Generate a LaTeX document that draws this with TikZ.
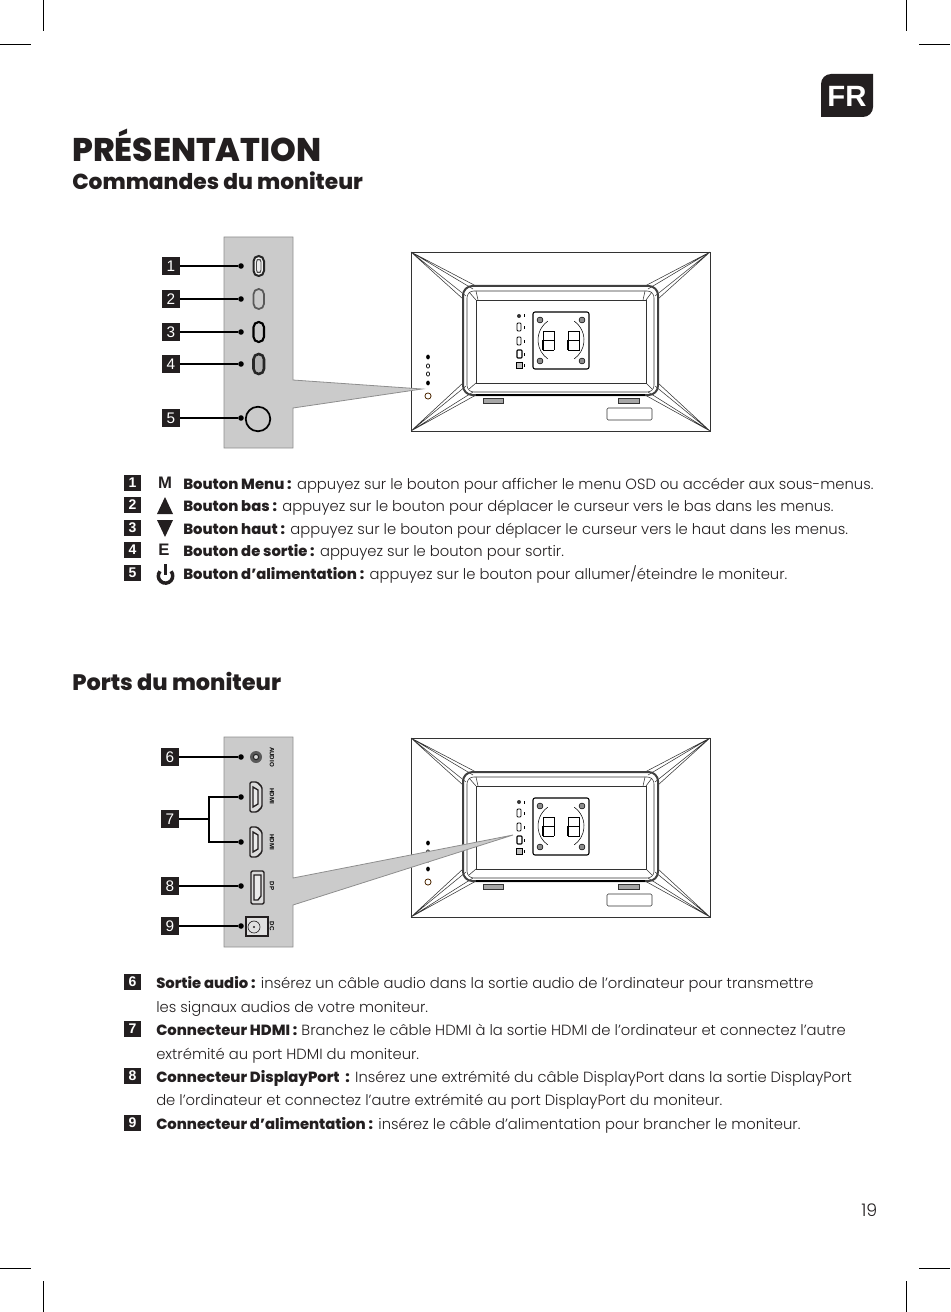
\documentclass[tikz,border=0pt]{standalone}
\usepackage{fontspec}
\setmainfont{Poppins Light}[BoldFont={Poppins ExtraBold}]
\newfontfamily\labelfont{Liberation Sans}
\usetikzlibrary{arrows.meta, positioning}
\definecolor{inkdark}{HTML}{231F20}
\definecolor{panelgray}{HTML}{CBCBCB}
\definecolor{panelline}{HTML}{8E8E8E}

\tikzset{
  panel/.style={fill=panelgray, draw=panelline, line width=0.6pt},
  numbox/.style={draw=none, fill=inkdark, text=white, minimum size=13.5pt, inner sep=0pt, font=\labelfont\fontsize{11.5}{12}\selectfont},
  listbox/.style={draw=none, fill=inkdark, text=white, minimum size=12.6pt, inner sep=0pt, font=\labelfont\bfseries\fontsize{10.5}{12}\selectfont},
  pindot/.style={circle, fill=black, inner sep=0pt, minimum size=4.2pt},
  pinline/.style={line width=0.8pt, black},
  bodytext/.style={anchor=base west, inner sep=0pt, text=inkdark, font=\fontsize{11.07}{14}\selectfont},
  headtext/.style={anchor=base west, inner sep=0pt, text=inkdark, font=\bfseries\fontsize{16.5}{18}\selectfont},
  portname/.style={rotate=-90, inner sep=0pt, font=\labelfont\bfseries\fontsize{4.6}{5}\selectfont},
  crop/.style={line width=0.4pt, black},
  pics/hdmiport/.style={code={
    \draw[line width=1.1pt, inkdark, rounded corners=1pt, fill=panelgray!70!white]
      (-6,-15) -- (1,-15) -- (6,-10) -- (6,10) -- (1,15) -- (-6,15) -- cycle;
    \draw[line width=1pt, inkdark, fill=panelgray!40!white]
      (-3,-10) -- (2,-7) -- (2,7) -- (-3,10) -- cycle;
  }},
  pics/monitorback/.style={code={
    % outer shell and corner creases
    \draw[line width=0.7pt, black!80] (411,252) rectangle (710,431);
    \draw[line width=0.4pt, black!80] (411,252) -- (476,286) (411,252) -- (473,289)
      (411,252) -- (463,299) (411,252) -- (466,296);
    \draw[line width=0.4pt, black!80] (710,252) -- (645,286) (710,252) -- (648,289)
      (710,252) -- (658,299) (710,252) -- (655,296);
    \draw[line width=0.4pt, black!80] (411,431) -- (476,395) (411,431) -- (473,392)
      (411,431) -- (463,383) (411,431) -- (466,386);
    \draw[line width=0.4pt, black!80] (710,431) -- (645,395) (710,431) -- (648,392)
      (710,431) -- (658,383) (710,431) -- (655,386);
    % frame round the stand recess
    \draw[line width=1.5pt, black!75, rounded corners=7pt] (463,286) rectangle (658,395);
    \draw[line width=1.1pt, black] (476,395) -- (645,395);
    \draw[line width=0.4pt, black!80, rounded corners=5pt] (467,291) rectangle (654,392);
    \draw[line width=0.4pt, black!80] (476,300) -- (646,300) -- (646,383) -- (476,383) -- cycle;
    \draw[line width=0.4pt, black!80] (469,292) -- (476,300) (652,292) -- (646,300)
      (469,389) -- (476,383) (652,389) -- (646,383) (476,291) -- (478,300) (645,291) -- (643,300);
    % feet and label
    \draw[line width=0.5pt, black!80, fill=black!35] (483,398) rectangle (503,403);
    \draw[line width=0.5pt, black!80, fill=black!35] (618,398) rectangle (639,403);
    \draw[line width=0.4pt, black!80, rounded corners=1pt] (607,408) rectangle (652,420);
    % mounting plate
    \draw[line width=0.8pt, black, rounded corners=1.5pt] (533,312) rectangle (589,369);
    \draw[line width=0.4pt, black, fill=black!45] (540,320) circle (2.2pt);
    \draw[line width=0.4pt, black, fill=black!45] (582,320) circle (2.2pt);
    \draw[line width=0.4pt, black, fill=black!45] (540,361) circle (2.2pt);
    \draw[line width=0.4pt, black, fill=black!45] (582,361) circle (2.2pt);
    \draw[line width=0.4pt, black] (547.8,321.2) arc[start angle=125, end angle=235, radius=17.25pt];
    \draw[line width=0.4pt, black] (574.2,321.2) arc[start angle=55, end angle=-55, radius=17.25pt];
    \draw[line width=0.4pt, black] (554,331) -- (543,331) -- (543,350) -- (554,350) (543,340) -- (554,340) (554,331) -- (554,350);
    \draw[line width=0.4pt, black] (568,331) -- (579,331) -- (579,350) -- (568,350) (568,340) -- (579,340) (568,331) -- (568,350);
    \draw[line width=0.9pt, black] (543,340) -- (543,350);
    \draw[line width=0.9pt, black] (568,340) -- (568,350);
    % port icons
    \fill[black!80] (519,316) circle (1.5pt);
    \fill[black] (523.5,314.5) rectangle (525,317.5);
    \draw[line width=0.6pt, black, rounded corners=0.7pt] (517,323) rectangle (521,331);
    \fill[black] (523.5,325.5) rectangle (525,328.5);
    \draw[line width=0.6pt, black, rounded corners=0.7pt] (517,337) rectangle (521,345);
    \fill[black] (523.5,339.5) rectangle (525,342.5);
    \draw[line width=0.8pt, black, rounded corners=0.7pt] (517,350) rectangle (522,358);
    \fill[black] (523.5,352.5) rectangle (525,355.5);
    \draw[line width=0.5pt, black, fill=black!25] (516,362) rectangle (522,368);
    \fill[black] (523.5,363.5) rectangle (525,366.5);
    % button dots
    \fill[black] (428,357) ellipse (1.4pt and 1.8pt);
    \draw[line width=0.5pt, black] (428,366) ellipse (1.2pt and 1.6pt);
    \draw[line width=0.5pt, black] (428,374) ellipse (1.2pt and 1.6pt);
    \fill[black] (428,383) ellipse (1.4pt and 1.8pt);
    \draw[line width=0.6pt, black!70!orange] (428,396) circle (2.3pt);
  }},
}

\begin{document}
\begin{tikzpicture}[x=0.75pt, y=-0.75pt]
  \useasboundingbox (0,0) rectangle (950,1312);

  % crop marks
  \draw[crop] (0,44) -- (31,44);
  \draw[crop] (43,0) -- (43,31);
  \draw[crop] (906,0) -- (906,31);
  \draw[crop] (919,44) -- (950,44);
  \draw[crop] (0,1268) -- (31,1268);
  \draw[crop] (43,1281) -- (43,1312);
  \draw[crop] (906,1281) -- (906,1312);
  \draw[crop] (919,1268) -- (950,1268);

  % language tab
  \fill[inkdark] (821,117) -- (863,117) arc[start angle=270, end angle=360, radius=7.5pt]
    -- (873,74) -- (831,74) arc[start angle=90, end angle=180, radius=7.5pt] -- cycle;
  \node[inner sep=0pt, text=white, font=\labelfont\bfseries\fontsize{22}{24}\selectfont] (tabfr) at (847,96) {FR};

  % headings
  \node[headtext, font=\bfseries\fontsize{24.6}{26}\selectfont] (title) at (72,162) {PRÉSENTATION};
  \node[headtext, font=\bfseries\fontsize{16.3}{18}\selectfont] (headcontrols) at (72,190) {Commandes du moniteur};
  \node[headtext, font=\bfseries\fontsize{16.8}{18}\selectfont] (headports) at (72,690) {Ports du moniteur};

  % buttons: monitor and side panel
  \pic at (0,0) {monitorback};
  \draw[panel] (224,237) -- (293,237) -- (293,380) -- (422,389) -- (293,408) -- (293,448) -- (224,448) -- cycle;
  \draw[line width=1.5pt, black!85, rounded corners=3.9pt, fill=white!85!gray] (253.5,256) rectangle (264,276);
  \draw[line width=0.7pt, black!70, rounded corners=1.8pt] (256.5,259.5) rectangle (261,272.5);
  \draw[line width=1.3pt, black!65, rounded corners=3.9pt] (253.5,289) rectangle (264,309);
  \draw[line width=1.6pt, black, rounded corners=3.9pt] (253.5,322) rectangle (264,342);
  \draw[line width=1.9pt, black!85, rounded corners=3.9pt, fill=black!30] (253.5,354) rectangle (264,374);
  \draw[line width=1.3pt, black] (258,419) circle (9.2pt);

  \node[numbox] (b1) at (171,266) {1};
  \node[numbox] (b2) at (171,299) {2};
  \node[numbox] (b3) at (171,332) {3};
  \node[numbox] (b4) at (171,364) {4};
  \node[numbox] (b5) at (171,418) {5};
  \node[pindot] (d1) at (241,266) {};
  \node[pindot] (d2) at (241,299) {};
  \node[pindot] (d3) at (241,332) {};
  \node[pindot] (d4) at (241,364) {};
  \node[pindot] (d5) at (241,418) {};
  \draw[pinline] (b1) -- (d1);
  \draw[pinline] (b2) -- (d2);
  \draw[pinline] (b3) -- (d3);
  \draw[pinline] (b4) -- (d4);
  \draw[pinline] (b5) -- (d5);

  % buttons: list
  \node[listbox] (l1) at (132.5,483) {1};
  \node[listbox] (l2) at (132.5,505) {2};
  \node[listbox] (l3) at (132.5,528) {3};
  \node[listbox] (l4) at (132.5,550) {4};
  \node[listbox] (l5) at (132.5,573) {5};
  \node[inner sep=0pt, text=inkdark, font=\labelfont\bfseries\fontsize{12.5}{14}\selectfont] (symm) at (165,483) {M};
  \fill[inkdark] (165,497) -- (173,514) -- (157,514) -- cycle;
  \fill[inkdark] (157,520) -- (173,520) -- (165,537) -- cycle;
  \node[inner sep=0pt, text=inkdark, font=\labelfont\bfseries\fontsize{12.5}{14}\selectfont] (syme) at (164,550) {E};
  \draw[line width=2.6pt, inkdark] (160,571.3) arc[start angle=140, end angle=400, radius=5.4pt];
  \draw[line width=2.6pt, inkdark] (165.5,564) -- (165.5,575);

  \node[bodytext] (t1) at (183,489) {\textbf{Bouton Menu :} appuyez sur le bouton pour afficher le menu OSD ou accéder aux sous-menus.};
  \node[bodytext] (t2) at (183,511) {\textbf{Bouton bas :} appuyez sur le bouton pour déplacer le curseur vers le bas dans les menus.};
  \node[bodytext] (t3) at (183,534) {\textbf{Bouton haut :} appuyez sur le bouton pour déplacer le curseur vers le haut dans les menus.};
  \node[bodytext] (t4) at (183,556) {\textbf{Bouton de sortie :} appuyez sur le bouton pour sortir.};
  \node[bodytext] (t5) at (183,579) {\textbf{Bouton d’alimentation :} appuyez sur le bouton pour allumer/éteindre le moniteur.};

  % ports: monitor and side panel
  \pic at (0,486) {monitorback};
  \draw[panel] (224,737) -- (293,737) -- (293,878) -- (513,835) -- (293,905) -- (293,947) -- (224,947) -- cycle;
  \fill[black!65] (256,757) circle (4.5pt);
  \draw[line width=0.8pt, black!85, fill=black!15] (256,757) circle (2pt);
  \pic at (256,797) {hdmiport};
  \pic at (256,842) {hdmiport};
  \draw[line width=1pt, inkdark, rounded corners=1pt, fill=panelgray!70!white] (251,871) rectangle (264,904);
  \draw[line width=1pt, inkdark, fill=panelgray!40!white] (254,875) -- (261,875) -- (261,896) -- (258,900) -- (254,900) -- cycle;
  \draw[line width=1pt, inkdark, fill=panelgray!60!white] (246,917) rectangle (268,936);
  \draw[line width=0.5pt, inkdark] (254,927) circle (4.5pt);
  \fill[inkdark] (254,927) circle (0.9pt);
  \node[portname] (lbaudio) at (272,757) {AUDIO};
  \node[portname] (lbhdmia) at (272,796) {HDMI};
  \node[portname] (lbhdmib) at (272,842) {HDMI};
  \node[portname] (lbdp) at (272,886) {DP};
  \node[portname] (lbdc) at (272,926) {DC};

  \node[numbox] (b6) at (170,757) {6};
  \node[numbox] (b7) at (170,819) {7};
  \node[numbox] (b8) at (170,886) {8};
  \node[numbox] (b9) at (170,926) {9};
  \node[pindot] (d6) at (241,757) {};
  \node[pindot] (d7a) at (241,797) {};
  \node[pindot] (d7b) at (241,842) {};
  \node[pindot] (d8) at (241,886) {};
  \node[pindot] (d9) at (241,926) {};
  \coordinate (fork) at (209,819);
  \draw[pinline] (b6) -- (d6);
  \draw[pinline] (b7) -- (fork);
  \draw[pinline] (d7a) -| (fork) |- (d7b);
  \draw[pinline] (b8) -- (d8);
  \draw[pinline] (b9) -- (d9);

  % ports: list
  \node[listbox] (l6) at (132.5,982) {6};
  \node[listbox] (l7) at (132.5,1029) {7};
  \node[listbox] (l8) at (132.5,1076) {8};
  \node[listbox] (l9) at (132.5,1123) {9};
  \node[bodytext] (t6) at (156,988) {\textbf{Sortie audio :} insérez un câble audio dans la sortie audio de l’ordinateur pour transmettre};
  \node[bodytext] (t6b) at (156,1012) {les signaux audios de votre moniteur.};
  \node[bodytext] (t7) at (156,1035) {\textbf{Connecteur HDMI :} Branchez le câble HDMI à la sortie HDMI de l’ordinateur et connectez l’autre};
  \node[bodytext] (t7b) at (156,1059) {extrémité au port HDMI du moniteur.};
  \node[bodytext] (t8) at (156,1082) {\textbf{Connecteur DisplayPort~ :} Insérez une extrémité du câble DisplayPort dans la sortie DisplayPort};
  \node[bodytext] (t8b) at (156,1105) {de l’ordinateur et connectez l’autre extrémité au port DisplayPort du moniteur.};
  \node[bodytext] (t9) at (156,1129) {\textbf{Connecteur d’alimentation :} insérez le câble d’alimentation pour brancher le moniteur.};

  \node[bodytext, font=\fontsize{13}{14}\selectfont] (pagenum) at (861,1216) {19};
\end{tikzpicture}
\end{document}
